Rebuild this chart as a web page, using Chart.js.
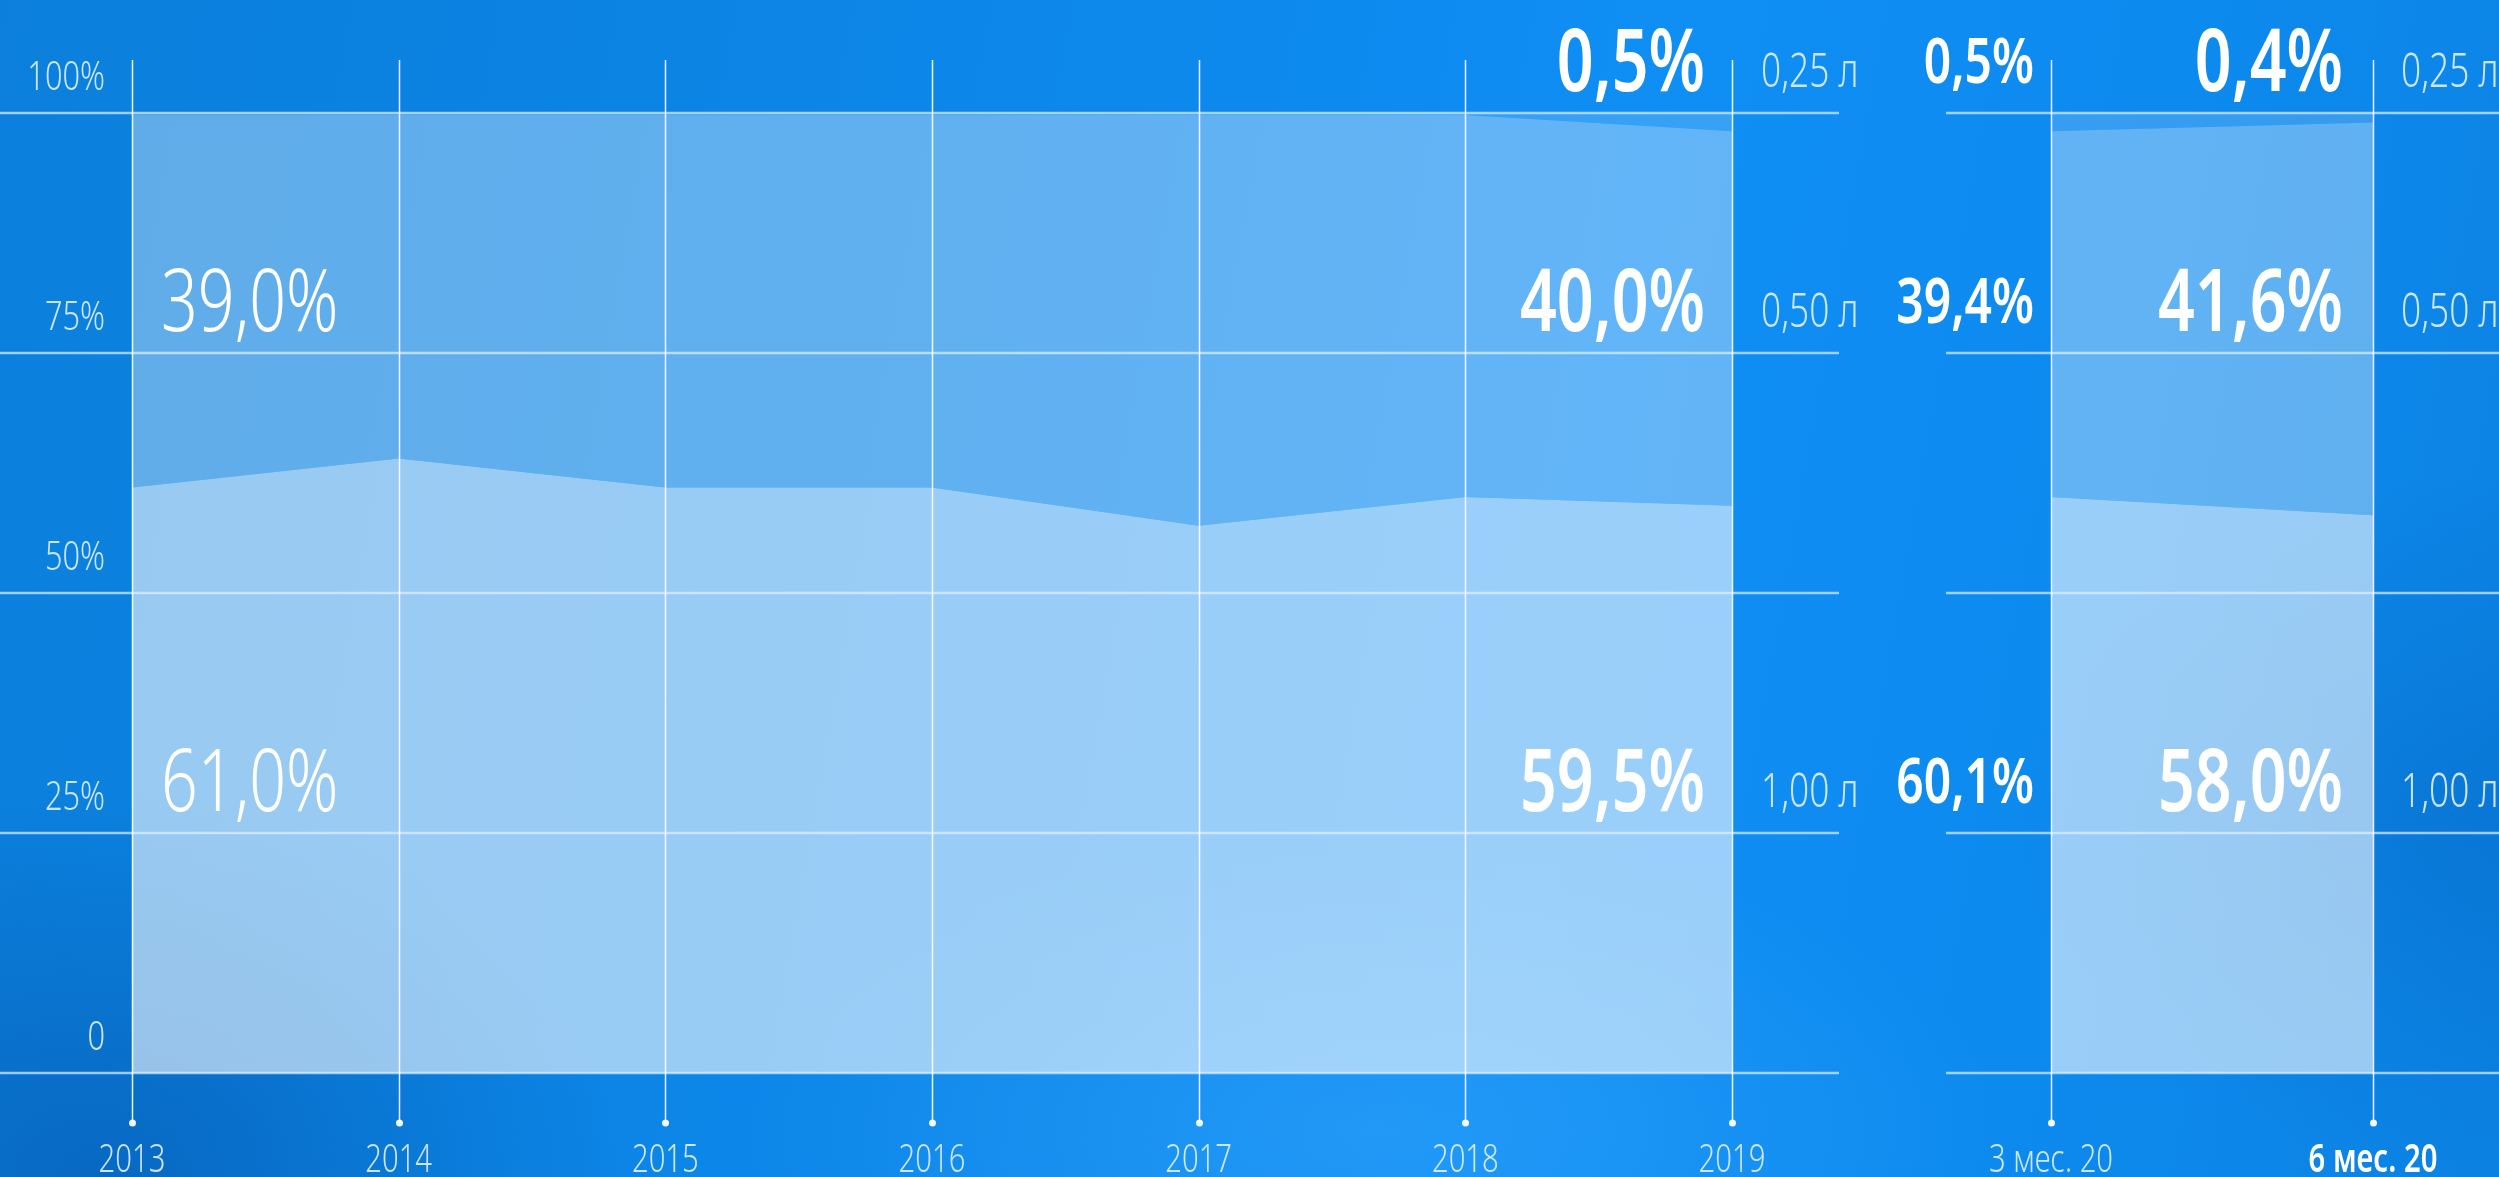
<!DOCTYPE html>
<html lang="ru">
<head>
<meta charset="utf-8">
<title>Структура продаж по объёму упаковки</title>
<script src="https://cdn.jsdelivr.net/npm/chart.js@4.4.1/dist/chart.umd.min.js"></script>
<style>
  html, body { margin: 0; padding: 0; }
  body {
    width: 2499px; height: 1177px; overflow: hidden; position: relative;
    background:
      radial-gradient(ellipse 700px 520px at 4% 100%, rgba(4, 84, 170, 0.55), rgba(4, 84, 170, 0) 75%),
      radial-gradient(ellipse 900px 420px at 55% 96%, rgba(70, 175, 255, 0.35), rgba(70, 175, 255, 0) 70%),
      radial-gradient(ellipse 700px 500px at 100% 70%, rgba(5, 95, 185, 0.35), rgba(5, 95, 185, 0) 70%),
      linear-gradient(100deg, #0b7fdb 0%, #0c86e8 35%, #0f8ef4 62%, #0d8aee 82%, #0b82e2 100%);
  }
  canvas { position: absolute; top: 0; }
  #left { left: 0; }
  #right { left: 1850px; }
</style>
</head>
<body>
<canvas id="left" width="1900" height="1177"></canvas>
<canvas id="right" width="649" height="1177"></canvas>
<script>
// периоды
const years = ['2013', '2014', '2015', '2016', '2017', '2018', '2019'];
const halfYear = ['3 мес. 20', '6 мес. 20'];
const units = ['0,25 л', '0,50 л', '1,00 л'];

// доли по годам, %
const years100 = [61.0, 64.0, 61.0, 61.0, 57.0, 60.0, 59.1];
const years050 = [38.8, 35.8, 38.8, 38.8, 42.8, 39.8, 39.0];
const years025 = [0.2, 0.2, 0.2, 0.2, 0.2, 0.2, 1.9];

// доли за 2020 год, %
const half100 = [60.0, 58.1];
const half050 = [38.1, 40.9];
const half025 = [1.9, 1.0];

const yTicks = [0, 25, 50, 75, 100];

// подписи значений (0,25 л / 0,50 л / 1,00 л)
const tags2013 = ['', '39,0%', '61,0%'];
const tags2019 = ['0,5%', '40,0%', '59,5%'];
const tags3m = ['0,5%', '39,4%', '60,1%'];
const tags6m = ['0,4%', '41,6%', '58,0%'];
const tagRows = [100, 75, 25];

const FAMILY = "'Noto Sans', 'DejaVu Sans', sans-serif";
const TICK_COLOR = 'rgba(215, 235, 255, 0.95)';
const SQUEEZE = 0.75; // узкий шрифт: сжимаем текст по горизонтали
Chart.defaults.font.family = FAMILY;

function squeezedText(ctx, text, x, y, font, align, color) {
    ctx.save();
    ctx.font = font;
    ctx.fillStyle = color;
    ctx.textAlign = align;
    ctx.textBaseline = 'alphabetic';
    ctx.translate(x, y);
    ctx.scale(SQUEEZE, 1);
    ctx.fillText(text, 0, 0);
    ctx.restore();
}

function makeSets(a100, a050, a025) {
    const base = { borderWidth: 0, pointRadius: 0, tension: 0 };
    return [
        { ...base, label: '1,00 л', data: a100, fill: 'origin', backgroundColor: 'rgba(255,255,255,0.58)' },
        { ...base, label: '0,50 л', data: a050, fill: '-1', backgroundColor: 'rgba(255,255,255,0.35)' },
        { ...base, label: '0,25 л', data: a025, fill: '-1', backgroundColor: 'rgba(255,255,255,0.17)' },
    ];
}

// сетка: горизонтальные линии шире области графика, вертикальные с точкой внизу
function gridPlugin(from, to) {
    return {
        id: 'gridLines',
        afterDatasetsDraw(chart) {
            const { ctx, chartArea, scales: { x, y } } = chart;
            ctx.save();
            ctx.strokeStyle = 'rgba(225,240,255,0.7)';
            ctx.lineWidth = 2.5;
            yTicks.forEach(v => {
                const py = Math.round(y.getPixelForValue(v));
                ctx.beginPath();
                ctx.moveTo(from, py);
                ctx.lineTo(to, py);
                ctx.stroke();
            });
            ctx.strokeStyle = 'rgba(255,255,255,0.9)';
            ctx.fillStyle = 'rgba(255,255,255,0.95)';
            ctx.lineWidth = 1.5;
            x.ticks.forEach((t, i) => {
                const px = Math.round(x.getPixelForValue(i)) + 0.5;
                ctx.beginPath();
                ctx.moveTo(px, chartArea.top - 53);
                ctx.lineTo(px, chartArea.bottom + 50);
                ctx.stroke();
                ctx.beginPath();
                ctx.arc(px, chartArea.bottom + 50, 3.5, 0, Math.PI * 2);
                ctx.fill();
            });
            ctx.restore();
        }
    };
}

// подписи осей (по тикам шкал) и крупные подписи долей
function textPlugin(groups, boldIndex) {
    return {
        id: 'shareTags',
        afterDatasetsDraw(chart) {
            const { ctx, chartArea, scales: { x, y } } = chart;
            x.ticks.forEach((t, i) => {
                const bold = i === boldIndex;
                squeezedText(ctx, x.getLabelForValue(t.value), x.getPixelForValue(i), chartArea.bottom + 99,
                    `${bold ? 600 : 300} 39px ${FAMILY}`, 'center', bold ? '#ffffff' : TICK_COLOR);
            });
            if (y.options.display) {
                y.ticks.forEach(t => {
                    squeezedText(ctx, t.label, chartArea.left - 27, y.getPixelForValue(t.value) - 23,
                        `300 41px ${FAMILY}`, 'right', TICK_COLOR);
                });
            }
            groups.forEach(g => {
                const px = x.getPixelForValue(g.index);
                g.texts.forEach((t, k) => {
                    if (!t) return;
                    squeezedText(ctx, t, px + g.dx, y.getPixelForValue(tagRows[k]) - g.dy,
                        g.font, g.align, g.color || '#ffffff');
                });
            });
        }
    };
}

function makeOptions(showY, padding) {
    return {
        responsive: false,
        animation: false,
        layout: { padding },
        plugins: { legend: { display: false }, tooltip: { enabled: false } },
        scales: {
            x: {
                offset: false,
                grid: { display: false },
                border: { display: false },
                ticks: { display: false, autoSkip: false },
                afterFit(axis) {
                    axis.height = 104;
                    axis.paddingLeft = 0;
                    axis.paddingRight = 0;
                }
            },
            y: {
                display: showY,
                stacked: true,
                min: 0,
                max: 100,
                grid: { display: false },
                border: { display: false },
                ticks: {
                    display: false,
                    stepSize: 25,
                    callback: v => v === 0 ? '0' : v + '%'
                },
                afterFit(axis) {
                    if (axis.options.display) axis.width = 132;
                }
            }
        }
    };
}

// 2013–2019
new Chart(document.getElementById('left').getContext('2d'), {
    type: 'line',
    data: { labels: years, datasets: makeSets(years100, years050, years025) },
    options: makeOptions(true, { top: 113, right: 168, left: 0, bottom: 0 }),
    plugins: [
        gridPlugin(0, 1839),
        textPlugin([
            { index: 0, texts: tags2013, align: 'left', dx: 29, dy: 22, font: `300 86px ${FAMILY}` },
            { index: 6, texts: tags2019, align: 'right', dx: -27, dy: 22, font: `600 86px ${FAMILY}` },
            { index: 6, texts: units, align: 'left', dx: 29, dy: 26, font: `300 47px ${FAMILY}`, color: TICK_COLOR }
        ], -1)
    ]
});

// 3 и 6 месяцев 2020
new Chart(document.getElementById('right').getContext('2d'), {
    type: 'line',
    data: { labels: halfYear, datasets: makeSets(half100, half050, half025) },
    options: makeOptions(false, { top: 113, right: 126, left: 201, bottom: 0 }),
    plugins: [
        gridPlugin(96, 649),
        textPlugin([
            { index: 0, texts: tags3m, align: 'right', dx: -17, dy: 30, font: `600 64px ${FAMILY}` },
            { index: 1, texts: tags6m, align: 'right', dx: -30, dy: 22, font: `600 86px ${FAMILY}` },
            { index: 1, texts: units, align: 'left', dx: 28, dy: 26, font: `300 47px ${FAMILY}`, color: TICK_COLOR }
        ], 1)
    ]
});
</script>
</body>
</html>
